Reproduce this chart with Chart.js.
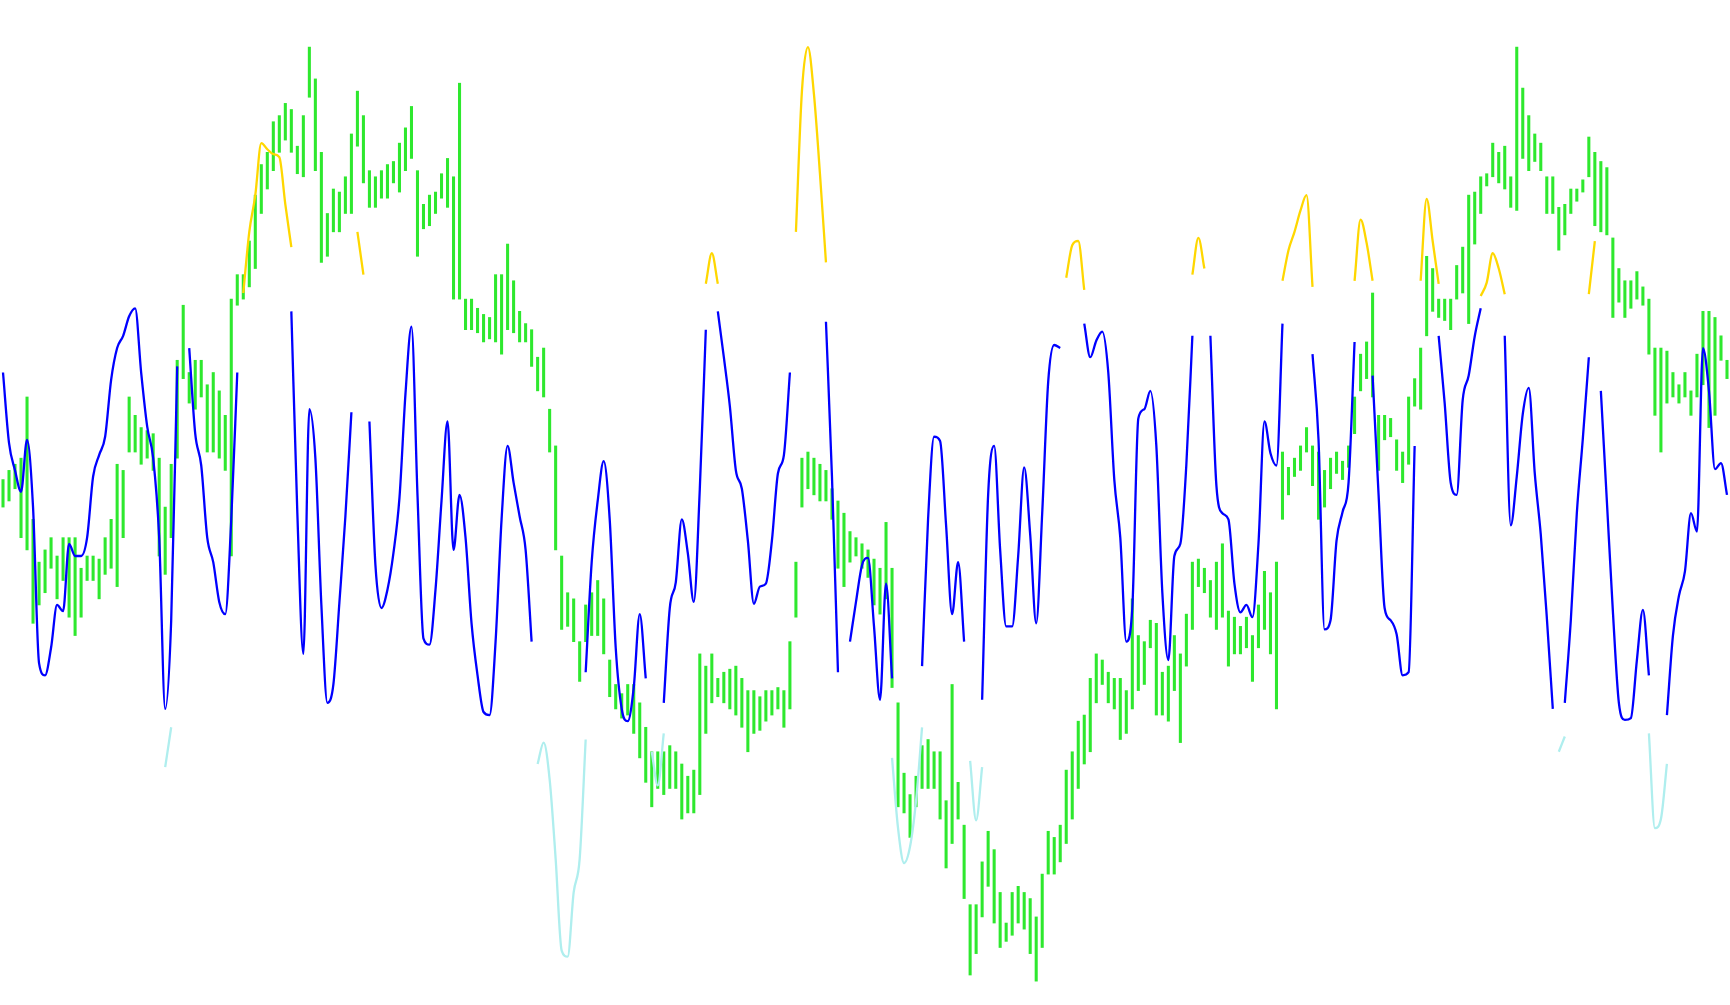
<!DOCTYPE html>
<html>
<head>
<meta charset="utf-8">
<script src="https://cdn.jsdelivr.net/npm/chart.js@4.4.1/dist/chart.umd.min.js"></script>
<style>
  html, body { margin: 0; padding: 0; background: #fff; }
  #wrap { width: 1730px; height: 1005px; }
</style>
</head>
<body>
<div id="wrap"><canvas id="chart"></canvas></div>
<script>
// price bars (high / low), one per bar
const barHigh = [
  859, 874, 884, 894, 994, 794, 724, 744, 764, 734,
  764, 764, 764, 714, 734, 734, 729, 764, 794, 884,
  874, 994, 964, 944, 939, 934, 894, 814, 884, 1054,
  1144, 1034, 1054, 1054, 1014, 1034, 1004, 964, 1154, 1194,
  1194, 1249, 1324, 1374, 1394, 1444, 1454, 1474, 1464, 1404,
  1454, 1566, 1514, 1394, 1294, 1334, 1329, 1354, 1424, 1494,
  1454, 1364, 1354, 1364, 1374, 1379, 1409, 1434, 1469, 1364,
  1309, 1324, 1329, 1359, 1384, 1354, 1507, 1154, 1154, 1139,
  1129, 1124, 1194, 1194, 1244, 1184, 1134, 1114, 1104, 1059,
  1074, 974, 914, 734, 674, 664, 594, 654, 674, 694,
  664, 564, 524, 509, 524, 524, 494, 454, 414, 414,
  414, 424, 414, 394, 374, 384, 574, 554, 574, 534,
  544, 549, 554, 534, 514, 514, 504, 514, 514, 519,
  514, 594, 724, 894, 904, 894, 884, 874, 844, 824,
  804, 774, 764, 754, 744, 729, 714, 789, 714, 494,
  379, 344, 374, 424, 434, 414, 414, 334, 524, 364,
  294, 164, 164, 234, 284, 254, 184, 134, 184, 194,
  184, 174, 144, 214, 284, 274, 294, 384, 414, 464,
  474, 534, 574, 564, 544, 534, 534, 514, 664, 604,
  594, 629, 624, 544, 554, 604, 574, 639, 724, 729,
  714, 694, 724, 754, 644, 634, 619, 634, 604, 654,
  709, 674, 724, 904, 879, 894, 914, 944, 914, 904,
  874, 894, 904, 889, 914, 994, 1064, 1084, 1164, 964,
  964, 959, 924, 904, 994, 1024, 1074, 1224, 1204, 1154,
  1154, 1154, 1209, 1239, 1324, 1329, 1354, 1359, 1409, 1394,
  1404, 1354, 1566, 1499, 1454, 1424, 1409, 1354, 1354, 1304,
  1309, 1334, 1334, 1349, 1419, 1394, 1379, 1369, 1254, 1204,
  1184, 1184, 1199, 1174, 1154, 1074, 1074, 1069, 1034, 1014,
  1034, 1004, 1064, 1134, 1134, 1124, 1094, 1054
];
const barLow = [
  814, 824, 844, 764, 744, 624, 654, 674, 714, 664,
  694, 634, 604, 634, 694, 694, 664, 704, 714, 684,
  764, 904, 904, 884, 894, 874, 734, 704, 764, 894,
  1024, 984, 974, 994, 904, 904, 894, 874, 734, 1144,
  1154, 1174, 1204, 1294, 1334, 1364, 1394, 1414, 1394, 1359,
  1354, 1484, 1364, 1214, 1224, 1264, 1264, 1294, 1294, 1404,
  1344, 1304, 1304, 1319, 1319, 1344, 1329, 1364, 1384, 1224,
  1269, 1274, 1294, 1319, 1304, 1154, 1154, 1104, 1104, 1099,
  1084, 1089, 1084, 1064, 1104, 1099, 1084, 1084, 1044, 1004,
  994, 904, 744, 614, 619, 594, 529, 594, 604, 604,
  574, 504, 484, 469, 474, 444, 404, 364, 324, 354,
  344, 354, 354, 304, 314, 314, 344, 444, 494, 504,
  494, 484, 474, 454, 414, 444, 449, 464, 474, 484,
  454, 484, 634, 814, 844, 834, 824, 824, 794, 714,
  684, 724, 734, 714, 699, 654, 639, 664, 519, 324,
  314, 274, 324, 354, 354, 354, 304, 224, 264, 304,
  174, 49, 84, 144, 194, 134, 94, 104, 114, 134,
  124, 84, 39, 94, 214, 214, 234, 264, 304, 354,
  394, 414, 494, 524, 494, 484, 434, 444, 484, 514,
  524, 584, 474, 474, 464, 514, 429, 554, 614, 684,
  674, 634, 614, 634, 554, 574, 574, 584, 529, 584,
  614, 574, 484, 794, 834, 864, 874, 904, 849, 794,
  814, 844, 869, 859, 879, 934, 1004, 1024, 994, 874,
  924, 929, 874, 854, 884, 979, 974, 1094, 1134, 1124,
  1119, 1104, 1154, 1164, 1114, 1244, 1294, 1339, 1354, 1344,
  1334, 1304, 1299, 1384, 1364, 1379, 1364, 1294, 1294, 1234,
  1259, 1294, 1314, 1329, 1354, 1274, 1264, 1259, 1124, 1149,
  1124, 1139, 1154, 1144, 1064, 964, 904, 984, 994, 984,
  994, 964, 994, 1014, 944, 964, 1054, 1024
];

// oscillator, middle band (null where it leaves the band)
const oscMid = [
  1034, 919, 874, 839, 924, 814, 559, 539, 584, 654,
  644, 754, 734, 734, 764, 864, 899, 929, 1022, 1074,
  1094, 1126, 1139, 1034, 946, 894, 764, 484, 629, 1044,
  null, 1074, 934, 882, 764, 724, 659, 639, 794, 1034,
  null, null, null, null, null, null, null, null, 1134, 804,
  574, 974, 894, 654, 494, 524, 658, 799, 969, null,
  null, 954, 719, 649, 679, 739, 829, 999, 1109, 834,
  599, 589, 679, 824, 954, 744, 834, 764, 624, 539,
  479, 474, 594, 794, 914, 854, 799, 744, 594, null,
  null, null, null, null, null, null, null, 544, 724, 824,
  889, 794, 584, 484, 464, 519, 639, 534, null, null,
  494, 649, 691, 794, 739, 659, 844, 1104, null, 1134,
  1059, 979, 874, 844, 759, 656, 684, 689, 759, 869,
  899, 1034, null, null, null, null, null, 1117, 864, 544,
  null, 594, 659, 719, 731, 619, 499, 689, 534, null,
  null, null, null, 554, 794, 929, 922, 784, 639, 724,
  594, null, null, 499, 834, 914, 744, 619, 619, 734,
  879, 769, 624, 804, 1019, 1079, 1074, null, null, null,
  1114, 1059, 1086, 1101, 1034, 859, 764, 594, 649, 959,
  974, 1004, 914, 674, 564, 734, 754, 884, 1094, null,
  null, 1094, 849, 804, 794, 689, 642, 654, 634, 754,
  954, 902, 882, 1114, null, null, null, null, 1064, 924,
  614, 629, 759, 806, 854, 1084, null, null, 1029, 834,
  649, 629, 606, 539, 544, 914, null, null, null, 1094,
  984, 854, 834, 989, 1029, 1093, 1139, null, null, null,
  1094, 784, 864, 966, 1009, 869, 769, 634, 484, null,
  494, 629, 804, 926, 1059, null, 1004, 824, 644, 494,
  466, 469, 564, 646, 539, null, null, 474, 604, 669,
  709, 804, 774, 1074, 1004, 876, 886, 834
];

// oscillator above the upper band: [bar, value]
const oscHigh = [
  [40, 1164], [41, 1264], [42, 1324], [43, 1409], [44, 1399], [45, 1391], [46, 1386], [47, 1309], [48, 1239],
  [59, 1264], [60, 1194],
  [117, 1179], [118, 1229], [119, 1179],
  [132, 1264], [133, 1494], [134, 1566], [135, 1489], [136, 1359], [137, 1214],
  [177, 1189], [178, 1242], [179, 1249], [180, 1169],
  [198, 1194], [199, 1254], [200, 1204],
  [213, 1184], [214, 1234], [215, 1264], [216, 1299], [217, 1324], [218, 1174],
  [225, 1184], [226, 1284], [227, 1246], [228, 1184],
  [236, 1184], [237, 1318], [238, 1249], [239, 1179],
  [246, 1159], [247, 1181], [248, 1229], [249, 1204], [250, 1162],
  [264, 1162], [265, 1249]
];

// oscillator below the lower band: [bar, value]
const oscLow = [
  [27, 389], [28, 454],
  [89, 394], [90, 429], [91, 369], [92, 239], [93, 89], [94, 79], [95, 184], [96, 239], [97, 434],
  [108, 414], [109, 359], [110, 444],
  [148, 404], [149, 289], [150, 232], [151, 259], [152, 334], [153, 454],
  [161, 399], [162, 302], [163, 389],
  [259, 414], [260, 439],
  [274, 444], [275, 289], [276, 304], [277, 394]
];

const yMax = 1643;
const labels = barHigh.map((v, i) => i);

function spread(pairs) {
  const out = labels.map(() => null);
  pairs.forEach(p => { out[p[0]] = p[1]; });
  return out;
}

function oscLine(data, color) {
  return {
    type: 'line', data: data, yAxisID: 'osc', borderColor: color, borderWidth: 2.3,
    pointRadius: 0, cubicInterpolationMode: 'monotone', spanGaps: false, order: 1
  };
}

const ctx = document.getElementById('chart').getContext('2d');
new Chart(ctx, {
  data: {
    labels: labels,
    datasets: [
      oscLine(oscMid, '#0000ff'),
      oscLine(spread(oscHigh), '#ffd700'),
      oscLine(spread(oscLow), '#afeeee'),
      { type: 'bar', data: barHigh.map((h, i) => [barLow[i], h]), yAxisID: 'price',
        backgroundColor: '#2ee82e', barThickness: 2.4, order: 2 }
    ]
  },
  options: {
    responsive: true,
    maintainAspectRatio: false,
    animation: false,
    layout: { padding: 0 },
    plugins: { legend: { display: false }, tooltip: { enabled: false } },
    scales: {
      x: { display: false, offset: true },
      price: { display: false, min: 0, max: yMax },
      osc: { display: false, min: 0, max: yMax }
    }
  }
});
</script>
</body>
</html>
